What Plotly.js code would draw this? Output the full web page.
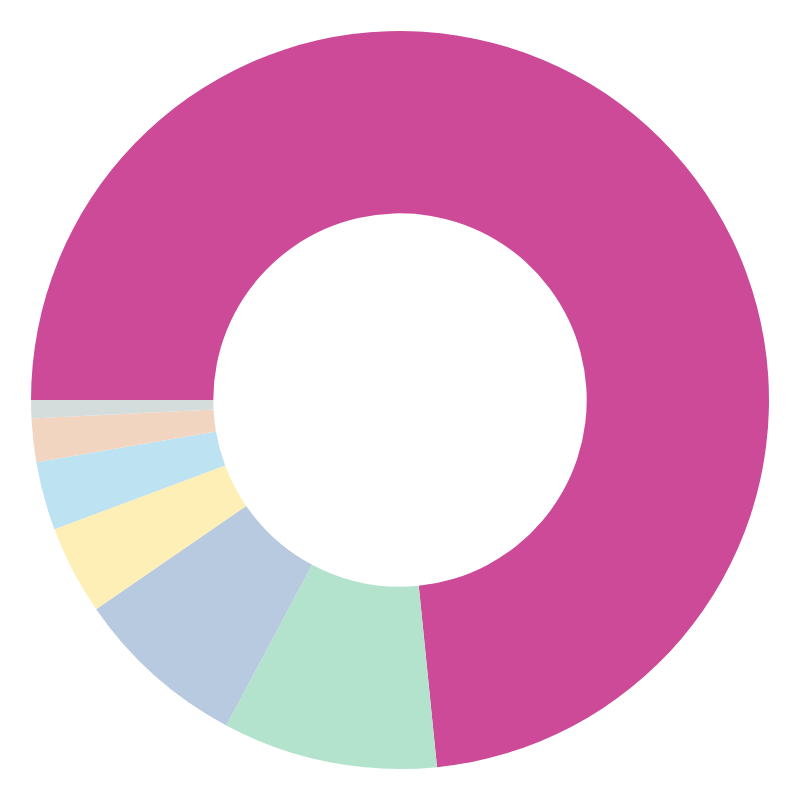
<!DOCTYPE html>
<html>
<head>
<meta charset="utf-8">
<script src="https://cdn.plot.ly/plotly-3.0.1.min.js"></script>
<style>html,body{margin:0;padding:0;background:#fff;}#chart{width:800px;height:800px;}</style>
</head>
<body>
<div id="chart"></div>
<script>
const labels = ["A", "B", "C", "D", "E", "F", "G"];
const values = [73.4, 9.4, 7.6, 3.9, 3.0, 1.9, 0.8];
const colors = ["#CC4A98", "#B3E3CD", "#B8CADF", "#FEEFB6", "#BDE2F2", "#F2D5C0", "#D5DCDC"];

Plotly.newPlot("chart", [{
  type: "pie",
  labels: labels,
  values: values,
  hole: 0.506,
  sort: false,
  direction: "clockwise",
  rotation: -90,
  textinfo: "none",
  hoverinfo: "none",
  marker: {colors: colors, line: {width: 0}},
  showlegend: false
}], {
  width: 800,
  height: 800,
  margin: {l: 31, r: 31, t: 31, b: 31},
  paper_bgcolor: "#ffffff",
  showlegend: false
}, {displayModeBar: false, staticPlot: true});
</script>
</body>
</html>
